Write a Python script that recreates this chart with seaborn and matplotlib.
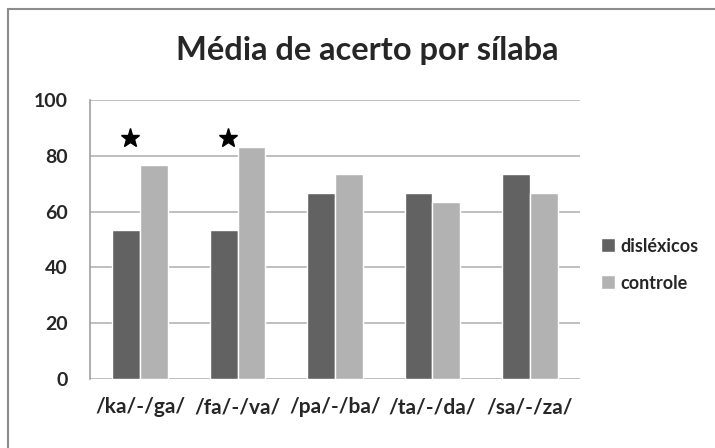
import pandas as pd
import numpy as np
import seaborn as sns
import matplotlib.pyplot as plt
from matplotlib.patches import Rectangle

silabas = ['/ka/-/ga/', '/fa/-/va/', '/pa/-/ba/', '/ta/-/da/', '/sa/-/za/']
dislexicos = [53.3, 53.3, 66.7, 66.7, 73.3]
controle = [76.7, 83.3, 73.3, 63.3, 66.7]
significativo = [True, True, False, False, False]

df = pd.DataFrame({
    'silaba': silabas * 2,
    'media': dislexicos + controle,
    'grupo': ['disléxicos'] * 5 + ['controle'] * 5,
})

sns.set_style('white')
plt.rcParams['font.family'] = ['Lato', 'DejaVu Sans']
plt.rcParams['font.weight'] = 'bold'

fig = plt.figure(figsize=(7.15, 4.48), dpi=100)
ax = fig.add_axes([0.126, 0.154, 0.685, 0.623])

sns.barplot(data=df, x='silaba', y='media', hue='grupo',
            palette=['#626262', '#b2b2b2'], width=0.57, saturation=1,
            ax=ax, zorder=3)

# estrelas nos pares com diferença significativa
for i, sig in enumerate(significativo):
    if sig:
        ax.plot(i - 0.1, 86.4, marker='*', color='black', markersize=14,
                linestyle='none', zorder=4)

ax.set_ylim(0, 100)
ax.set_yticks(range(0, 101, 20))
ax.yaxis.grid(True, color='#b4b4b4', linewidth=1.2, zorder=0)
ax.set_xlabel('')
ax.set_ylabel('')
for s in ['top', 'right', 'bottom']:
    ax.spines[s].set_visible(False)
ax.spines['left'].set_color('#a0a0a0')
ax.spines['left'].set_linewidth(1.2)
ax.tick_params(axis='y', length=0, pad=16, labelsize=14)
ax.tick_params(axis='x', length=0, pad=13, labelsize=15)

fig.text(0.513, 0.866, 'Média de acerto por sílaba', ha='center', va='baseline',
         fontsize=23.5, fontweight='bold')

leg = ax.legend(loc='center left', bbox_to_anchor=(1.01, 0.41), frameon=False,
                fontsize=13, handlelength=0.8, handleheight=0.8,
                handletextpad=0.3, labelspacing=1.1)

# moldura externa do gráfico
fig.patches.append(Rectangle((0.011, -0.02), 1.1, 1.0, transform=fig.transFigure,
                             fill=False, edgecolor='#8c8c8c', linewidth=1.5))

fig.savefig('out.png', dpi=100)
